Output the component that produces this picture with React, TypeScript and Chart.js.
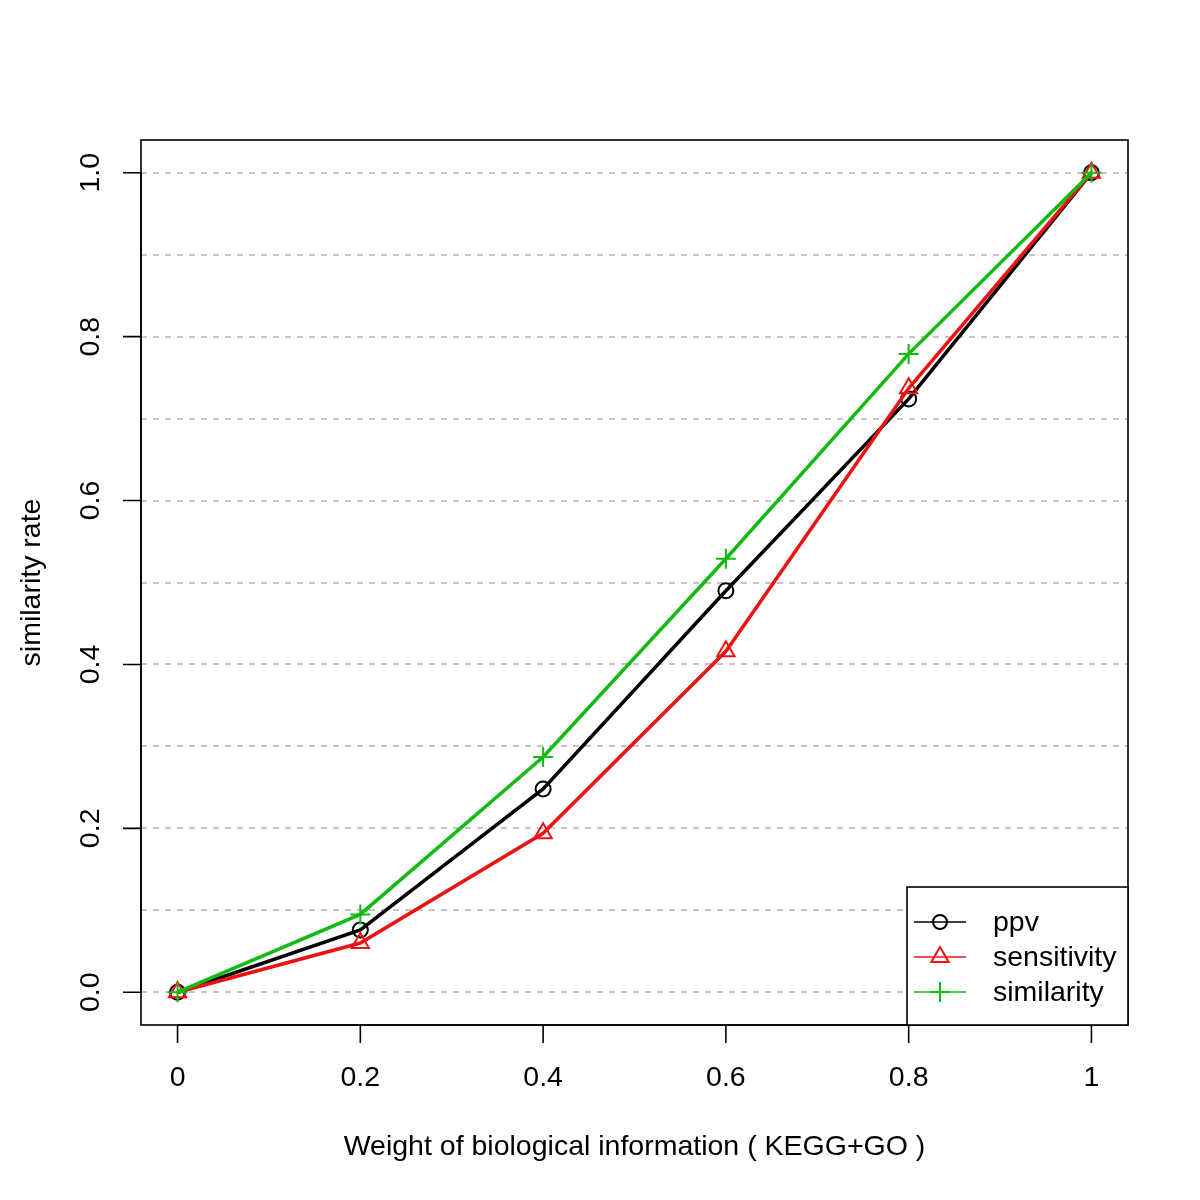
import React, { useEffect, useRef } from "react";
import { Chart, registerables } from "chart.js";

Chart.register(...registerables);

const xValues = [0, 0.2, 0.4, 0.6, 0.8, 1];
const ppv = [0, 0.076, 0.248, 0.49, 0.724, 1.0];
const sensitivity = [0, 0.06, 0.194, 0.416, 0.737, 1.0];
const similarity = [0, 0.095, 0.287, 0.529, 0.779, 1.0];

const xTicks = [0, 0.2, 0.4, 0.6, 0.8, 1];
const xTickLabels = ["0", "0.2", "0.4", "0.6", "0.8", "1"];
const yTicks = [0, 0.2, 0.4, 0.6, 0.8, 1.0];
const yTickLabels = ["0.0", "0.2", "0.4", "0.6", "0.8", "1.0"];
const gridValues = [0, 0.1, 0.2, 0.3, 0.4, 0.5, 0.6, 0.7, 0.8, 0.9, 1.0];

const seriesNames = ["ppv", "sensitivity", "similarity"];
const seriesColors = ["#000000", "#ee1111", "#11bb11"];
const seriesStyles = ["circle", "triangle", "cross"];

const xTitle = "Weight of biological information ( KEGG+GO )";
const yTitle = "similarity rate";

const FONT = '"Liberation Sans", Arial, Helvetica, sans-serif';
const FS = 28.5;

function drawMarker(ctx: CanvasRenderingContext2D, style: string, x: number, y: number, r: number, color: string, lw: number) {
  ctx.save();
  ctx.strokeStyle = color;
  ctx.lineWidth = lw;
  ctx.setLineDash([]);
  ctx.beginPath();
  if (style === "circle") {
    ctx.arc(x, y, r, 0, Math.PI * 2);
  } else if (style === "triangle") {
    for (let i = 0; i < 3; i++) {
      const a = (i * 2 * Math.PI) / 3;
      const px = x + Math.sin(a) * r;
      const py = y - Math.cos(a) * r;
      if (i === 0) ctx.moveTo(px, py);
      else ctx.lineTo(px, py);
    }
    ctx.closePath();
  } else {
    ctx.moveTo(x - r, y);
    ctx.lineTo(x + r, y);
    ctx.moveTo(x, y - r);
    ctx.lineTo(x, y + r);
  }
  ctx.stroke();
  ctx.restore();
}

const rStylePlugin = {
  id: "rStyle",
  beforeDatasetsDraw(chart: any) {
    const ctx = chart.ctx as CanvasRenderingContext2D;
    const { left, right } = chart.chartArea;
    const ys = chart.scales.y;
    ctx.save();
    ctx.strokeStyle = "#c4c4c4";
    ctx.lineWidth = 2;
    ctx.setLineDash([6, 6]);
    for (const v of gridValues) {
      const py = Math.round(ys.getPixelForValue(v));
      ctx.beginPath();
      ctx.moveTo(left, py);
      ctx.lineTo(right, py);
      ctx.stroke();
    }
    ctx.restore();
  },
  afterDraw(chart: any) {
    const ctx = chart.ctx as CanvasRenderingContext2D;
    const { left, right, top, bottom } = chart.chartArea;
    const xs = chart.scales.x;
    const ys = chart.scales.y;
    ctx.save();
    ctx.setLineDash([]);
    ctx.strokeStyle = "#000";
    ctx.lineWidth = 1.6;
    // box
    ctx.strokeRect(left, top, right - left, bottom - top);
    const tickLen = 18;
    // x axis
    const x0 = xs.getPixelForValue(xTicks[0]);
    const x1 = xs.getPixelForValue(xTicks[xTicks.length - 1]);
    ctx.beginPath();
    ctx.moveTo(x0, bottom);
    ctx.lineTo(x1, bottom);
    for (const v of xTicks) {
      const px = xs.getPixelForValue(v);
      ctx.moveTo(px, bottom);
      ctx.lineTo(px, bottom + tickLen);
    }
    // y axis
    const y0 = ys.getPixelForValue(yTicks[0]);
    const y1 = ys.getPixelForValue(yTicks[yTicks.length - 1]);
    ctx.moveTo(left, y0);
    ctx.lineTo(left, y1);
    for (const v of yTicks) {
      const py = ys.getPixelForValue(v);
      ctx.moveTo(left, py);
      ctx.lineTo(left - tickLen, py);
    }
    ctx.stroke();

    ctx.fillStyle = "#000";
    ctx.font = `${FS}px ${FONT}`;
    ctx.textAlign = "center";
    ctx.textBaseline = "middle";
    xTicks.forEach((v, i) => {
      ctx.fillText(xTickLabels[i], xs.getPixelForValue(v), bottom + 53);
    });
    yTicks.forEach((v, i) => {
      ctx.save();
      ctx.translate(left - 50, ys.getPixelForValue(v));
      ctx.rotate(-Math.PI / 2);
      ctx.fillText(yTickLabels[i], 0, 0);
      ctx.restore();
    });
    // titles
    ctx.fillText(xTitle, (left + right) / 2, bottom + 122);
    ctx.save();
    ctx.translate(left - 109, (top + bottom) / 2);
    ctx.rotate(-Math.PI / 2);
    ctx.fillText(yTitle, 0, 0);
    ctx.restore();

    // legend
    const lw = 221;
    const lh = 138;
    const lx = right - lw;
    const ly = bottom - lh;
    ctx.fillStyle = "#fff";
    ctx.fillRect(lx, ly, lw, lh);
    ctx.strokeStyle = "#000";
    ctx.lineWidth = 1.6;
    ctx.strokeRect(lx, ly, lw, lh);
    seriesNames.forEach((name, i) => {
      const rowY = ly + 35 + i * 35;
      ctx.strokeStyle = seriesColors[i];
      ctx.lineWidth = 1.6;
      ctx.beginPath();
      ctx.moveTo(lx + 7, rowY);
      ctx.lineTo(lx + 59, rowY);
      ctx.stroke();
      const r = seriesStyles[i] === "circle" ? 7 : 10;
      drawMarker(ctx, seriesStyles[i], lx + 33, rowY, r, seriesColors[i], 2);
      ctx.fillStyle = "#000";
      ctx.textAlign = "left";
      ctx.fillText(name, lx + 86, rowY + 1);
    });
    ctx.restore();
  },
};

export default function App() {
  const canvasRef = useRef<HTMLCanvasElement | null>(null);

  useEffect(() => {
    if (!canvasRef.current) return;
    const seriesData = [ppv, sensitivity, similarity];
    const datasets = seriesNames.map((name, i) => ({
      label: name,
      data: xValues.map((x, j) => ({ x, y: seriesData[i][j] })),
      borderColor: seriesColors[i],
      backgroundColor: "rgba(0,0,0,0)",
      borderWidth: 3.5,
      pointStyle: seriesStyles[i] as any,
      pointRadius: seriesStyles[i] === "circle" ? 7.5 : 10,
      pointBorderWidth: 2,
      pointBorderColor: seriesColors[i],
      pointBackgroundColor: "rgba(0,0,0,0)",
      tension: 0,
      fill: false,
      order: 3 - i,
    }));
    const chart = new Chart(canvasRef.current, {
      type: "line",
      data: { datasets },
      options: {
        animation: false,
        responsive: false,
        devicePixelRatio: 1,
        layout: { padding: { left: 141, right: 72, top: 140, bottom: 175 } },
        plugins: { legend: { display: false }, tooltip: { enabled: false } },
        scales: {
          x: { type: "linear", min: -0.04, max: 1.04, display: false },
          y: { type: "linear", min: -0.04, max: 1.04, display: false },
        },
      },
      plugins: [rStylePlugin],
    });
    return () => chart.destroy();
  }, []);

  return (
    <div style={{ position: "absolute", left: 0, top: 0, width: 1200, height: 1200, background: "#fff" }}>
      <canvas ref={canvasRef} width={1200} height={1200} style={{ width: 1200, height: 1200 }} />
    </div>
  );
}
